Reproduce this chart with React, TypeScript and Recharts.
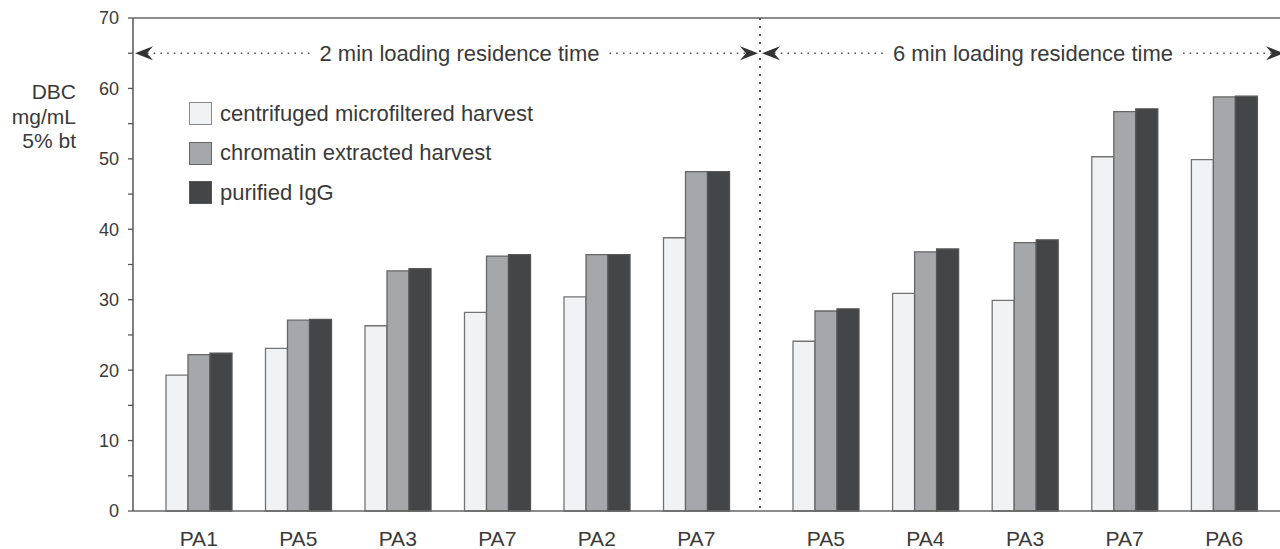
import { BarChart, Bar, XAxis, YAxis, ReferenceLine, Legend } from "recharts"

// DBC at 5% breakthrough, two loading residence times
const LEFT_CATEGORIES = ["PA1", "PA5", "PA3", "PA7", "PA2", "PA7"]
const LEFT_CENTRIFUGED = [19.3, 23.1, 26.3, 28.2, 30.4, 38.8]
const LEFT_CHROMATIN = [22.2, 27.1, 34.1, 36.2, 36.4, 48.2]
const LEFT_PURIFIED = [22.4, 27.2, 34.4, 36.4, 36.4, 48.2]

const RIGHT_CATEGORIES = ["PA5", "PA4", "PA3", "PA7", "PA6"]
const RIGHT_CENTRIFUGED = [24.1, 30.9, 29.9, 50.3, 49.9]
const RIGHT_CHROMATIN = [28.4, 36.8, 38.1, 56.7, 58.8]
const RIGHT_PURIFIED = [28.7, 37.2, 38.5, 57.1, 58.9]

const Y_TICKS = [0, 5, 10, 15, 20, 25, 30, 35, 40, 45, 50, 55, 60, 65, 70]
const ARROW_LEVEL = 65

const SERIES = [
  { key: "centrifuged", name: "centrifuged microfiltered harvest", fill: "#f1f2f4", stroke: "#737373" },
  { key: "chromatin", name: "chromatin extracted harvest", fill: "#a6a7aa", stroke: "#666666" },
  { key: "purified", name: "purified IgG", fill: "#444547", stroke: "#555555" },
]

const FONT = '"Liberation Sans", Arial, Helvetica, sans-serif'
const TEXT = "#3a3a3a"
const AXIS = "#666666"
const H = 549

const buildRows = (cats: string[], a: number[], b: number[], c: number[]) =>
  cats.map((name, i) => ({ name, centrifuged: a[i], chromatin: b[i], purified: c[i] }))

const leftRows = buildRows(LEFT_CATEGORIES, LEFT_CENTRIFUGED, LEFT_CHROMATIN, LEFT_PURIFIED)
const rightRows = buildRows(RIGHT_CATEGORIES, RIGHT_CENTRIFUGED, RIGHT_CHROMATIN, RIGHT_PURIFIED)

// dotted double-headed arrow with a caption, spanning the whole plot width
function ResidenceArrow(props: any) {
  const { x1, x2, y1, text, overhang = 0 } = props
  const y = y1
  const left = Math.min(x1, x2) + 2
  const right = Math.max(x1, x2) - 2 + overhang
  const mid = (Math.min(x1, x2) + Math.max(x1, x2)) / 2 + 13
  const half = 150
  return (
    <g>
      <line x1={left + 12} y1={y} x2={mid - half} y2={y} stroke="#555" strokeWidth={1.6} strokeDasharray="1.6 5.1" />
      <line x1={mid + half} y1={y} x2={right - 12} y2={y} stroke="#555" strokeWidth={1.6} strokeDasharray="1.6 5.1" />
      <path d={`M${left},${y} L${left + 18},${y - 7} L${left + 12},${y} L${left + 18},${y + 7} Z`} fill="#333" />
      <path d={`M${right},${y} L${right - 18},${y - 7} L${right - 12},${y} L${right - 18},${y + 7} Z`} fill="#333" />
      <text x={mid} y={y} dy="0.36em" textAnchor="middle" fontSize={22} fill={TEXT} fontFamily={FONT}>
        {text}
      </text>
    </g>
  )
}

function LegendBox() {
  return (
    <div style={{ fontFamily: FONT, fontSize: 22, color: TEXT }}>
      {SERIES.map(s => (
        <div key={s.key} style={{ display: "flex", alignItems: "center", height: 39.5 }}>
          <span
            style={{
              display: "inline-block",
              width: 21,
              height: 21,
              background: s.fill,
              border: `1.5px solid ${s.key === "centrifuged" ? "#8a8a8a" : s.stroke}`,
              marginRight: 8,
            }}
          />
          <span>{s.name}</span>
        </div>
      ))}
    </div>
  )
}

function AxisTitle() {
  const x = 76
  return (
    <text textAnchor="end" fontSize={21} fill={TEXT} fontFamily={FONT}>
      <tspan x={x} y={99}>DBC</tspan>
      <tspan x={x} y={123.5}>mg/mL</tspan>
      <tspan x={x} y={148}>5% bt</tspan>
    </text>
  )
}

const renderBars = () =>
  SERIES.map(s => (
    <Bar
      key={s.key}
      dataKey={s.key}
      name={s.name}
      fill={s.fill}
      stroke={s.stroke}
      strokeWidth={1.3}
      barSize={22}
      isAnimationActive={false}
    />
  ))

const xTick = { fill: TEXT, fontSize: 21, fontFamily: FONT }

export default function App() {
  return (
    <div style={{ position: "fixed", left: 0, top: 0, width: 1280, height: H, background: "#fff", overflow: "hidden" }}>
      {/* 2 min residence time */}
      <div style={{ position: "absolute", left: 0, top: 0 }}>
        <BarChart
          width={760}
          height={H}
          data={leftRows}
          barGap={0}
          margin={{ top: 18, right: 0, bottom: 0, left: 0 }}
        >
          <XAxis
            dataKey="name"
            height={38}
            tickLine={false}
            tickSize={0}
            tickMargin={20}
            padding={{ left: 16, right: 14 }}
            axisLine={{ stroke: AXIS, strokeWidth: 1.5 }}
            tick={xTick}
          />
          <YAxis
            width={133}
            domain={[0, 70]}
            ticks={Y_TICKS}
            interval={0}
            tickSize={5}
            tickMargin={9}
            tickFormatter={(v: number) => (v % 10 === 0 ? String(v) : "")}
            axisLine={{ stroke: "#555", strokeWidth: 1.5 }}
            tickLine={{ stroke: "#555", strokeWidth: 1.3 }}
            tick={{ fill: TEXT, fontSize: 18, fontFamily: FONT }}
            label={{ content: AxisTitle }}
          />
          <ReferenceLine y={70} stroke={AXIS} strokeWidth={1.5} />
          <ReferenceLine
            y={ARROW_LEVEL}
            shape={(p: any) => <ResidenceArrow {...p} text="2 min loading residence time" />}
          />
          <Legend
            layout="vertical"
            align="center"
            verticalAlign="middle"
            content={() => <LegendBox />}
            wrapperStyle={{ left: 189, top: 94, width: 400, height: 120 }}
          />
          {renderBars()}
        </BarChart>
      </div>

      {/* 6 min residence time; its y axis is the dotted divider */}
      <div style={{ position: "absolute", left: 740, top: 0 }}>
        <BarChart
          width={540}
          height={H}
          data={rightRows}
          barGap={0}
          margin={{ top: 18, right: 0, bottom: 0, left: 0 }}
        >
          <XAxis
            dataKey="name"
            height={38}
            tickLine={false}
            tickSize={0}
            tickMargin={20}
            padding={{ left: 16, right: 6 }}
            axisLine={{ stroke: AXIS, strokeWidth: 1.5 }}
            tick={xTick}
          />
          <YAxis
            width={20}
            domain={[0, 70]}
            ticks={Y_TICKS}
            tick={false}
            tickLine={false}
            axisLine={{ stroke: "#444", strokeWidth: 1.8, strokeDasharray: "2 6" }}
          />
          <ReferenceLine y={70} stroke={AXIS} strokeWidth={1.5} />
          <ReferenceLine
            y={ARROW_LEVEL}
            shape={(p: any) => <ResidenceArrow {...p} overhang={6} text="6 min loading residence time" />}
          />
          {renderBars()}
        </BarChart>
      </div>
    </div>
  )
}
